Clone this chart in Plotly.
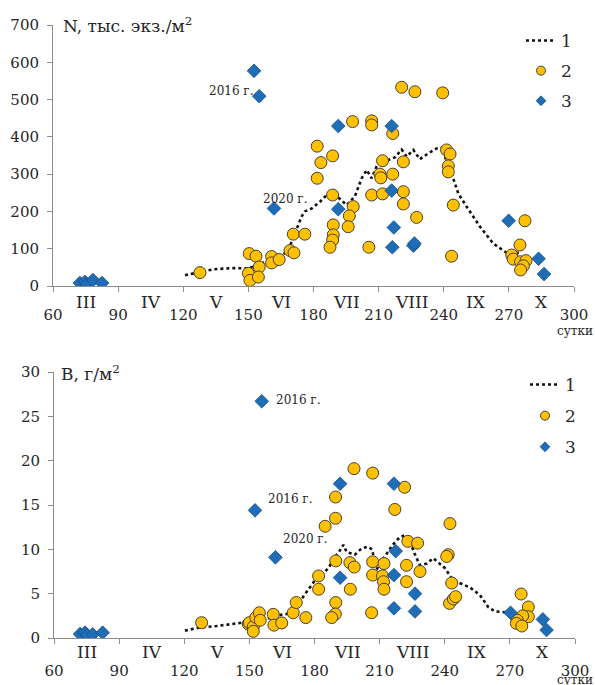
import plotly.graph_objects as go

W, H = 595, 685
FONT = "DejaVu Serif, Liberation Serif, serif"

# ---------------- data: N (top) ----------------
n_line_day = [120.8, 127.5, 134, 143, 150, 155, 160, 164, 167, 169.2, 173, 174.5, 176,
              179.2, 183, 186.8, 189, 192.2, 195.3, 199.1, 202.2, 204.5, 206.8, 209,
              211.4, 214.5, 217.5, 220.6, 222.9, 226, 229, 232.9, 236.7, 239.8, 241.3,
              243.6, 246.7, 250.5, 256.7, 262.8, 269, 275]
n_line_val = [29, 38, 45, 48, 47, 58, 70, 82, 88, 108, 164, 186, 200,
              208, 226, 248, 250, 232, 217, 241, 289, 311, 289, 320,
              342, 338, 345, 366, 347, 365, 340, 356, 369, 372, 329,
              302, 248, 213, 159, 114, 89, 89]

n_circ_day = [127.7, 150.4, 153.5, 155, 150, 150.7, 154.6, 160.7, 160.7, 164.2, 169.2, 171,
              170.7, 176, 181.7, 188.8, 183.4, 181.7, 188.8, 189.1, 189.1, 188.8, 187.6,
              198.3, 196.5, 196, 198, 206.8, 206.8, 205.5, 206.8, 211.8, 210.6, 211,
              211.8, 216.5, 221.4, 221.4, 221.4, 216.5, 220.6, 226.7, 239.5, 227.5,
              241.3, 242.9, 242.1, 242.1, 244.4, 243.6, 277.4, 275.1, 271.3, 272, 275.4,
              277.9, 276.7, 275.4]
n_circ_val = [36, 87, 80, 51, 34, 15, 24, 79, 62, 71, 95, 89,
              139, 139, 375, 349, 331, 289, 244, 164, 137, 123, 104,
              213, 188, 159, 441, 443, 432, 104, 244, 247, 300, 290,
              336, 300, 333, 253, 220, 409, 533, 521, 518, 184,
              365, 354, 322, 306, 217, 80, 175, 110, 83, 72, 65,
              68, 54, 43]

n_diam_day = [72.4, 74.7, 75.6, 78.4, 82.6, 152.6, 155, 161.8, 191.4, 216, 216, 191.4,
              217, 216.3, 226, 226.5, 269.9, 283.7, 286.2]
n_diam_val = [8, 11, 5, 16, 8, 577, 509, 208, 429, 429, 256, 206,
              157, 104, 108, 114, 175, 73, 32]

# ---------------- data: B (bottom) ----------------
b_line_day = [120.3, 127.3, 134.9, 142.6, 148.8, 155, 160, 164.1, 167.2, 171, 174.8, 177.1,
              180.2, 183, 186.8, 188.7, 191, 193.3, 194.8, 198.6, 201.7, 204.5, 206.5,
              208.6, 210.5, 213, 216, 219.4, 221.7, 223.9, 226.3, 228.6, 231.7, 234.7,
              240, 243.9, 247, 251.6, 256.2, 260, 263.1, 267.7, 270]
b_line_val = [0.83, 1.2, 1.35, 1.58, 1.73, 2.0, 2.3, 2.6, 2.7, 3.3, 4.66, 5.4,
              6.5, 7.0, 8.0, 9.0, 9.6, 10.5, 9.7, 9.4, 10.1, 10.3, 10.0,
              7.7, 8.6, 9.4, 10.5, 11.4, 11.6, 10.9, 9.4, 8.2, 8.4, 9.0,
              7.9, 6.5, 6.2, 5.7, 4.85, 3.5, 3.0, 2.85, 2.85]

b_circ_day = [128, 149.5, 150, 151.8, 151.8, 153, 154.6, 155, 161, 161.3, 164.9, 170.2,
              171.6, 176, 181.9, 181.9, 184.9, 189.7, 189.7, 189.8, 189.8, 189.6, 187.9,
              198.2, 206.8, 196.3, 198.3, 196.5, 206.3, 206.8, 206.8, 211.3, 211.8, 212,
              212, 221.5, 217, 223, 227.5, 222.4, 222.4, 228.6, 242.4, 241.6, 240.9,
              243.2, 242.2, 244, 245, 275.2, 278.5, 278.5, 275.9, 273.4, 273, 275.5]
b_circ_val = [1.73, 1.58, 1.73, 1.28, 0.75, 2.33, 2.85, 2.0, 2.67, 1.45, 1.7, 2.85,
              4.0, 2.3, 7.0, 5.5, 12.6, 13.5, 15.9, 8.7, 4.0, 2.7, 2.3,
              19.1, 18.6, 8.5, 8.0, 5.5, 2.85, 8.6, 7.1, 7.0, 6.35, 5.5,
              8.4, 17.0, 14.5, 10.9, 10.7, 8.2, 6.35, 7.5, 12.9, 9.4, 9.2,
              6.2, 3.9, 4.4, 4.66, 4.96, 3.5, 2.4, 2.5, 2.0, 1.65, 1.35]

b_diam_day = [72, 74.3, 75.3, 77.8, 82.4, 155.7, 152.6, 162, 191.8, 216.6, 217.4, 216.6,
              216.6, 226.3, 226.3, 191.8, 270.3, 285.2, 286.9]
b_diam_val = [0.45, 0.6, 0.34, 0.4, 0.6, 26.7, 14.4, 9.1, 17.4, 17.4, 9.8, 7.1,
              3.35, 5.0, 3.0, 6.8, 2.85, 2.1, 0.9]

x_ticks = [60, 90, 120, 150, 180, 210, 240, 270, 300]
months = ["III", "IV", "V", "VI", "VII", "VIII", "IX", "X"]
month_pos = [75, 105, 135, 165, 195, 225, 255, 285]
n_ticks = [0, 100, 200, 300, 400, 500, 600, 700]
b_ticks = [0, 5, 10, 15, 20, 25, 30]

legend_names = ["1", "2", "3"]

# ---------------- styles ----------------
GOLD = "#FFC000"
GOLD_EDGE = "#4a4030"
BLUE = "#1E6DB6"
BLUE_EDGE = "#134F8A"
AXIS_C = "#8c8c8c"
TXT = "#262626"
LINE_STYLE = dict(color="#111111", width=2.6, dash="dot")
CIRC_LINE = dict(color=GOLD_EDGE, width=1)
DIAM_LINE = dict(color=BLUE_EDGE, width=0.8)


def px(x):
    return x / W


def py(y):
    return 1 - y / H


fig = go.Figure()

panels = [
    ("x", "y", "legend", n_line_day, n_line_val, n_circ_day, n_circ_val, n_diam_day, n_diam_val),
    ("x2", "y2", "legend2", b_line_day, b_line_val, b_circ_day, b_circ_val, b_diam_day, b_diam_val),
]
for xa, ya, lg, ld, lv, cd, cv, dd, dv in panels:
    fig.add_trace(go.Scatter(x=ld, y=lv, mode="lines", name=legend_names[0], xaxis=xa, yaxis=ya,
                             legend=lg, legendgroup=lg + "a", line=LINE_STYLE))
    fig.add_trace(go.Scatter(x=cd, y=cv, mode="markers", xaxis=xa, yaxis=ya, showlegend=False,
                             legendgroup=lg + "b",
                             marker=dict(symbol="circle", size=12, color=GOLD, line=CIRC_LINE)))
    fig.add_trace(go.Scatter(x=dd, y=dv, mode="markers", xaxis=xa, yaxis=ya, showlegend=False,
                             legendgroup=lg + "c",
                             marker=dict(symbol="diamond", size=10.5, color=BLUE, line=DIAM_LINE)))
    # legend entries (smaller symbols, as in the original key)
    fig.add_trace(go.Scatter(x=[None], y=[None], mode="markers", name=legend_names[1], xaxis=xa,
                             yaxis=ya, legend=lg, legendgroup=lg + "b",
                             marker=dict(symbol="circle", size=9, color=GOLD, line=CIRC_LINE)))
    fig.add_trace(go.Scatter(x=[None], y=[None], mode="markers", name=legend_names[2], xaxis=xa,
                             yaxis=ya, legend=lg, legendgroup=lg + "c",
                             marker=dict(symbol="diamond", size=7.5, color=BLUE, line=DIAM_LINE)))

axis_common = dict(showgrid=False, zeroline=False, showline=True, linecolor=AXIS_C, linewidth=1,
                   ticks="outside", tickcolor=AXIS_C, ticklen=5, tickwidth=1, automargin=False,
                   tickfont=dict(family=FONT, size=15, color=TXT))

leg_common = dict(xanchor="left", yanchor="top", bgcolor="rgba(0,0,0,0)",
                  font=dict(family=FONT, size=17, color=TXT),
                  traceorder="grouped")

fig.update_layout(
    width=W, height=H, margin=dict(l=0, r=0, t=0, b=0, autoexpand=False),
    paper_bgcolor="white", plot_bgcolor="white",
    font=dict(family=FONT, color=TXT),
    xaxis=dict(domain=[px(53), px(574)], range=[60, 300], tickvals=x_ticks, anchor="y",
               ticklabelstandoff=10, **axis_common),
    yaxis=dict(domain=[py(286), py(25)], range=[0, 700], tickvals=n_ticks, anchor="x",
               ticklabelstandoff=5, **axis_common),
    xaxis2=dict(domain=[px(54), px(575)], range=[60, 300], tickvals=x_ticks, anchor="y2",
                ticklabelstandoff=14, **axis_common),
    yaxis2=dict(domain=[py(638), py(372)], range=[0, 30], tickvals=b_ticks, anchor="x2",
                ticklabelstandoff=5, **axis_common),
    legend=dict(x=px(521), y=py(23), tracegroupgap=5, **leg_common),
    legend2=dict(x=px(525), y=py(367), tracegroupgap=6, **leg_common),
)

ann = []
# month numerals
for xr, yr, ysh in (("x", "y", -4), ("x2", "y2", -2)):
    for m, p in zip(months, month_pos):
        ann.append(dict(x=p, y=0, xref=xr, yref=yr, text=m, showarrow=False, yanchor="top",
                        yshift=ysh, font=dict(family=FONT, size=17, color=TXT)))

# axis titles
ann.append(dict(x=px(61), y=py(25), xref="paper", yref="paper", xanchor="left", yanchor="middle",
                text="N, тыс. экз./м<sup>2</sup>", showarrow=False,
                font=dict(family=FONT, size=17, color=TXT)))
ann.append(dict(x=px(59), y=py(373), xref="paper", yref="paper", xanchor="left", yanchor="middle",
                text="B, г/м<sup>2</sup>", showarrow=False,
                font=dict(family=FONT, size=17, color=TXT)))
# units
for yy in (331, 680):
    ann.append(dict(x=px(575), y=py(yy), xref="paper", yref="paper", xanchor="center",
                    yanchor="middle", text="сутки", showarrow=False,
                    font=dict(family=FONT, size=12, color=TXT)))

# year labels
YEAR_FONT = dict(family=FONT, size=12, color=TXT)
ann.append(dict(x=px(231), y=py(82), xref="paper", yref="paper", text="2016 г.", showarrow=False,
                font=YEAR_FONT))
ann.append(dict(x=px(285), y=py(190), xref="paper", yref="paper", text="2020 г.", showarrow=False,
                font=YEAR_FONT))
ann.append(dict(x=px(298), y=py(400), xref="paper", yref="paper", text="2016 г.", showarrow=False,
                font=YEAR_FONT))
ann.append(dict(x=px(290), y=py(508), xref="paper", yref="paper", text="2016 г.", showarrow=False,
                font=YEAR_FONT))
ann.append(dict(x=px(305), y=py(548), xref="paper", yref="paper", text="2020 г.", showarrow=False,
                font=YEAR_FONT))

fig.update_layout(annotations=ann)

fig.write_html("out.html")
